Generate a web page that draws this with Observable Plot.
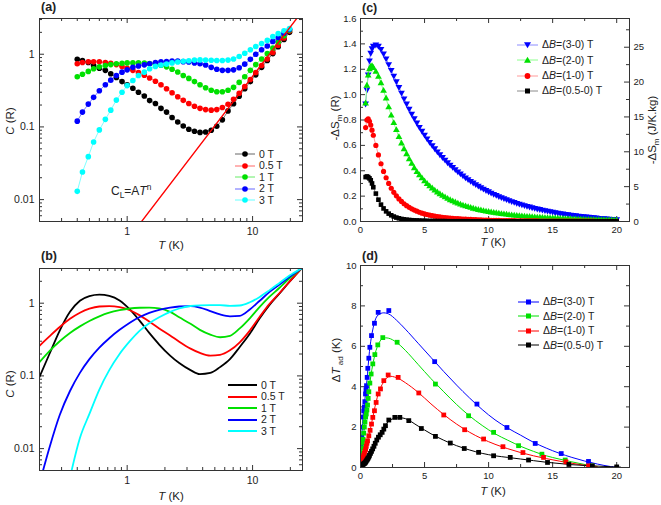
<!DOCTYPE html>
<html><head><meta charset="utf-8">
<script src="https://cdn.jsdelivr.net/npm/d3@7"></script>
<script src="https://cdn.jsdelivr.net/npm/@observablehq/plot@0.6"></script>
<style>
body{margin:0;background:#fff;font-family:"Liberation Sans",Arial,sans-serif;color:#222;}
#wrap{position:relative;width:661px;height:505px;overflow:hidden;background:#fff;}
.p{position:absolute;}
.t{position:absolute;font-size:11.5px;white-space:nowrap;line-height:1;}
.rot{transform:translate(-50%,-50%) rotate(-90deg);}
.ctr{transform:translate(-50%,-50%);}
.lab{position:absolute;font-weight:bold;font-size:12.5px;line-height:1;}
.leg{position:absolute;display:flex;align-items:center;height:12px;gap:4px;font-size:10.5px;white-space:nowrap;line-height:1;}
sub,sup{font-size:70%;line-height:0;}
sub{vertical-align:-0.3em;} sup{vertical-align:0.6em;}
</style></head>
<body><div id="wrap"></div>
<script>
// ---------- Panel (a): measured C(T) ----------
const aT = [0.4,0.44,0.49,0.54,0.6,0.67,0.74,0.82,0.91,1.0,1.11,1.23,1.37,1.51,1.68,1.86,2.06,2.28,2.53,2.8,3.1,3.44,3.81,4.22,4.68,5.18,5.74,6.37,7.05,7.82,8.66,9.6,10.6,11.8,13.1,14.5,16.0,17.8,19.7];
const aC0 = [0.85,0.82,0.77,0.70,0.64,0.60,0.54,0.48,0.42,0.38,0.34,0.30,0.266,0.23,0.21,0.18,0.16,0.135,0.117,0.103,0.093,0.087,0.084,0.085,0.09,0.102,0.125,0.166,0.208,0.265,0.335,0.42,0.52,0.66,0.82,1.02,1.27,1.6,2.0];
const aC05 = [0.74,0.77,0.785,0.785,0.785,0.77,0.75,0.72,0.68,0.64,0.6,0.56,0.515,0.47,0.425,0.38,0.335,0.295,0.26,0.232,0.21,0.192,0.18,0.173,0.17,0.173,0.185,0.205,0.24,0.29,0.36,0.45,0.56,0.7,0.86,1.06,1.33,1.67,2.08];
const aC1 = [0.49,0.53,0.58,0.63,0.67,0.70,0.72,0.74,0.75,0.76,0.76,0.76,0.755,0.745,0.73,0.705,0.67,0.62,0.57,0.51,0.465,0.42,0.38,0.345,0.32,0.305,0.305,0.32,0.35,0.41,0.49,0.6,0.72,0.86,1.02,1.22,1.47,1.8,2.15];
const aC2 = [0.12,0.16,0.206,0.255,0.315,0.38,0.44,0.51,0.567,0.61,0.66,0.69,0.714,0.74,0.77,0.785,0.795,0.805,0.805,0.79,0.78,0.76,0.74,0.71,0.66,0.62,0.6,0.6,0.61,0.65,0.73,0.85,1.0,1.15,1.3,1.5,1.7,1.95,2.2];
const aC3 = [0.013,0.024,0.039,0.062,0.091,0.127,0.17,0.234,0.3,0.37,0.436,0.51,0.567,0.63,0.68,0.71,0.73,0.76,0.78,0.8,0.815,0.83,0.835,0.83,0.825,0.82,0.82,0.83,0.86,0.93,1.03,1.15,1.28,1.4,1.55,1.75,1.92,2.1,2.25];
const lawT = [1.2, 26];
const lawC = [0.00415, 4.3];
const fieldLabels = ["0 T","0.5 T","1 T","2 T","3 T"];

// ---------- Panel (b): model C(T) ----------
const bT = [0.2,0.24,0.29,0.35,0.42,0.5,0.6,0.72,0.87,1.05,1.26,1.5,1.8,2.2,2.6,3.2,3.8,4.6,5.5,6.6,7.9,9.5,11.4,13.6,16.4,19.7,24.5];
const bC0 = [0.097,0.2,0.42,0.76,1.08,1.25,1.31,1.26,1.09,0.82,0.57,0.39,0.27,0.19,0.15,0.12,0.106,0.11,0.132,0.17,0.25,0.38,0.62,0.94,1.36,1.97,3.0];
const bC05 = [0.26,0.35,0.47,0.61,0.74,0.84,0.9,0.91,0.88,0.8,0.68,0.56,0.45,0.36,0.295,0.237,0.207,0.19,0.195,0.225,0.29,0.42,0.65,0.97,1.38,1.98,3.0];
const bC1 = [0.155,0.22,0.3,0.39,0.48,0.57,0.66,0.74,0.8,0.845,0.865,0.87,0.85,0.76,0.64,0.52,0.43,0.37,0.34,0.355,0.45,0.62,0.89,1.22,1.63,2.2,3.0];
const bC2 = [0.0033,0.0103,0.029,0.062,0.11,0.17,0.245,0.33,0.43,0.54,0.645,0.735,0.81,0.87,0.9,0.91,0.87,0.78,0.7,0.66,0.67,0.82,1.08,1.42,1.8,2.3,3.0];
const bC3 = [null,null,null,0.004,0.014,0.03,0.065,0.12,0.2,0.3,0.42,0.53,0.64,0.76,0.845,0.915,0.935,0.94,0.94,0.92,0.93,1.03,1.22,1.5,1.9,2.4,3.0];

// ---------- Panel (c): -ΔS_m(T) ----------
const cT = [0.4,0.5,0.6,0.7,0.8,0.9,1.0,1.2,1.4,1.6,1.8,2.0,2.2,2.4,2.6,2.8,3.0,3.2,3.4,3.6,3.8,4.0,4.2,4.4,4.6,4.8,5.0,5.2,5.4,5.6,5.8,6.0,6.2,6.4,6.6,6.8,7.0,7.2,7.4,7.6,7.8,8.0,8.2,8.4,8.6,8.8,9.0,9.2,9.4,9.6,9.8,10.0,10.2,10.4,10.6,10.8,11.0,11.2,11.4,11.6,11.8,12.0,12.2,12.4,12.6,12.8,13.0,13.2,13.4,13.6,13.8,14.0,14.2,14.4,14.6,14.8,15.0,15.2,15.4,15.6,15.8,16.0,16.2,16.4,16.6,16.8,17.0,17.2,17.4,17.6,17.8,18.0,18.2,18.4,18.6,18.8,19.0,19.2,19.4,19.6,19.8,20.0];
const cS3 = [0.93,1.04,1.16,1.27,1.33,1.365,1.385,
1.395,1.385,1.36,1.325,1.285,1.24,1.195,1.15,1.105,1.06,
1.015,0.97,0.93,0.89,0.85,0.815,0.78,0.745,0.715,0.685,
0.655,0.628,0.602,0.577,0.553,0.53,0.508,0.487,0.467,0.448,
0.43,0.412,0.395,0.379,0.363,0.348,0.334,0.32,0.307,0.294,
0.282,0.27,0.259,0.248,0.238,0.228,0.218,0.209,0.2,0.192,
0.184,0.176,0.168,0.161,0.154,0.147,0.141,0.135,0.129,0.123,
0.118,0.112,0.107,0.102,0.098,0.093,0.089,0.085,0.081,0.077,
0.073,0.07,0.066,0.063,0.06,0.057,0.054,0.051,0.049,0.046,
0.044,0.041,0.039,0.037,0.035,0.033,0.031,0.029,0.027,0.026,
0.024,0.023,0.021,0.02,0.019];
const cS2 = [0.93,1.07,1.15,1.2,1.22,1.225,1.21,
1.18,1.14,1.09,1.03,0.97,0.9,0.835,0.775,0.72,0.665,
0.615,0.57,0.53,0.49,0.455,0.42,0.39,0.365,0.34,0.317,
0.296,0.277,0.26,0.244,0.229,0.215,0.202,0.19,0.179,0.168,
0.159,0.15,0.141,0.133,0.126,0.119,0.113,0.107,0.101,0.096,
0.091,0.087,0.082,0.078,0.075,0.071,0.068,0.065,0.062,0.059,
0.056,0.054,0.051,0.049,0.047,0.045,0.043,0.041,0.039,0.037,
0.036,0.034,0.033,0.031,0.03,0.029,0.027,0.026,0.025,0.024,
0.023,0.022,0.021,0.02,0.019,0.018,0.018,0.017,0.016,0.015,
0.015,0.014,0.013,0.013,0.012,0.012,0.011,0.011,0.01,0.01,
0.009,0.009,0.009,0.008,0.008];
const cS1 = [0.74,0.8,0.81,0.79,0.76,0.72,0.68,
0.6,0.525,0.455,0.395,0.345,0.3,0.262,0.23,0.202,0.178,
0.158,0.14,0.125,0.112,0.1,0.09,0.081,0.073,0.066,0.06,
0.055,0.05,0.046,0.042,0.039,0.036,0.033,0.031,0.029,0.027,
0.025,0.023,0.022,0.02,0.019,0.018,0.017,0.016,0.015,0.014,
0.013,0.013,0.012,0.011,0.011,0.01,0.01,0.009,0.009,0.008,
0.008,0.008,0.007,0.007,0.007,0.006,0.006,0.006,0.006,0.005,
0.005,0.005,0.005,0.005,0.004,0.004,0.004,0.004,0.004,0.004,
0.004,0.004,0.003,0.003,0.003,0.003,0.003,0.003,0.003,0.003,
0.003,0.003,0.003,0.003,0.003,0.003,0.002,0.002,0.002,0.002,
0.002,0.002,0.002,0.002,0.002];
const cS05 = [0.35,0.355,0.35,0.34,0.325,0.3,0.27,
0.22,0.172,0.133,0.103,0.08,0.062,0.049,0.039,0.031,0.025,
0.02,0.017,0.014,0.012,0.01,0.009,0.008,0.007,0.006,0.005,
0.005,0.004,0.004,0.004,0.003,0.003,0.003,0.003,0.002,0.002,
0.002,0.002,0.002,0.002,0.002,0.002,0.002,0.001,0.001,0.001,
0.001,0.001,0.001,0.001,0.001,0.001,0.001,0.001,0.001,0.001,
0.001,0.001,0.001,0.001,0.001,0.001,0.001,0.001,0.001,0.001,
0.001,0.001,0.001,0.001,0.001,0.001,0.001,0.001,0.001,0.001,
0.001,0.001,0.001,0.001,0.001,0.001,0.001,0.001,0.001,0.001,
0.001,0.001,0.001,0.001,0.001,0.001,0.001,0.001,0.001,0.001,
0.001,0.001,0.001,0.001,0.001];
const jkgPerR = 18.2;
const cRightTicks = [0,5,10,15,20,25];
const cRightMinor = [2.5,7.5,12.5,17.5,22.5,27.5];
const dBLabels = ["(3-0) T","(2-0) T","(1-0) T","(0.5-0) T"];

// ---------- Panel (d): ΔT_ad(T) ----------
const dLT = [0.05,0.2,0.4,0.5,0.6,0.7,0.8,1.0,1.3,1.7,2.2,2.8,3.5,4.5,5.5,6.5,7.5,8.5,9.5,10.5,11.5,12.5,13.5,14.5,15.5,16.5,17.5,18.5,19.5,20.3];
const dL3 = [1.0,2.5,3.7,4.3,5.05,5.75,6.25,6.95,7.5,7.65,7.6,7.3,6.85,6.15,5.45,4.75,4.08,3.45,2.87,2.36,1.95,1.6,1.25,0.96,0.71,0.5,0.32,0.17,0.05,0];
const dL2 = [0.7,1.4,2.5,2.85,3.42,4.0,4.5,5.23,5.95,6.38,6.4,6.2,5.8,5.1,4.4,3.75,3.12,2.56,2.08,1.67,1.35,1.05,0.8,0.58,0.42,0.28,0.15,0.04,null,null];
const dL1 = [0.25,0.5,0.9,1.2,1.45,1.7,2.0,2.6,3.45,4.12,4.5,4.45,4.2,3.72,3.15,2.62,2.15,1.75,1.42,1.15,0.93,0.74,0.58,0.44,0.32,0.21,0.11,0.03,null,null];
const dL05 = [0.1,0.16,0.27,0.37,0.47,0.6,0.72,0.98,1.38,1.76,2.3,2.45,2.42,2.05,1.67,1.35,1.08,0.87,0.7,0.58,0.5,0.42,0.34,0.26,0.2,0.14,0.1,0.07,0.04,0.02];
const dT3 = [0.05,0.1,0.15,0.2,0.25,0.3,0.34,0.39,0.43,0.47,0.52,0.57,0.65,0.73,0.86,1.09,1.38,2.21,5.79,9.09,11.43,13.64,15.67,17.8];
const dY3 = [1.0,1.5,2.0,2.5,2.8,3.0,3.26,3.64,3.85,4.05,4.46,4.91,5.41,5.95,6.53,7.14,7.68,7.77,5.24,3.14,1.98,1.19,0.69,0.3];
const dT2 = [0.05,0.1,0.15,0.2,0.25,0.3,0.35,0.4,0.45,0.5,0.55,0.6,0.65,0.73,0.83,0.96,1.12,1.35,1.74,2.86,5.85,8.44,10.39,12.34,14.16,15.98,18.06];
const dY2 = [0.7,0.95,1.2,1.4,1.7,2.0,2.25,2.5,2.65,2.85,3.09,3.42,3.75,4.18,4.63,5.13,5.59,6.07,6.43,6.2,4.13,2.56,1.74,1.08,0.66,0.37,0.08];
const dT1 = [0.05,0.1,0.15,0.2,0.25,0.3,0.35,0.4,0.45,0.5,0.55,0.65,0.75,0.86,0.96,1.09,1.22,1.38,1.56,1.82,2.16,2.94,4.55,6.5,8.13,9.61,11.12,12.68,14.29,16.03,17.8];
const dY1 = [0.25,0.32,0.4,0.5,0.6,0.7,0.8,0.9,1.05,1.2,1.32,1.57,1.84,2.15,2.48,2.81,3.22,3.64,3.89,4.3,4.58,4.46,3.69,2.6,1.87,1.41,1.03,0.74,0.5,0.28,0.08];
const dT05 = [0.05,0.1,0.15,0.2,0.25,0.3,0.35,0.4,0.45,0.5,0.55,0.6,0.65,0.7,0.78,0.86,0.95,1.05,1.15,1.27,1.4,1.54,1.69,1.82,1.95,2.21,2.68,3.07,3.77,4.75,5.85,7.01,8.1,9.22,10.39,11.69,13.12,14.6,16.27,18.1,20.0];
const dY05 = [0.1,0.12,0.14,0.16,0.18,0.2,0.23,0.27,0.32,0.37,0.42,0.47,0.53,0.6,0.7,0.8,0.92,1.05,1.2,1.36,1.5,1.62,1.74,1.9,2.07,2.35,2.48,2.48,2.32,1.93,1.54,1.21,0.94,0.75,0.58,0.5,0.37,0.25,0.15,0.08,0.03];

// ---------- tick values ----------
const logXMajor = [1, 10];
const logXMinor = [0.3,0.4,0.5,0.6,0.7,0.8,0.9,2,3,4,5,6,7,8,9,20];
const logYMajor = [0.01, 0.1, 1];
const logYMinor = [0.006,0.007,0.008,0.009,0.02,0.03,0.04,0.05,0.06,0.07,0.08,0.09,0.2,0.3,0.4,0.5,0.6,0.7,0.8,0.9,2,3];
const linXMajor = [0,5,10,15,20];
const linXMinor = [2.5,7.5,12.5,17.5];
const cYMajor = [0,0.2,0.4,0.6,0.8,1.0,1.2,1.4,1.6];
const cYMinor = [0.1,0.3,0.5,0.7,0.9,1.1,1.3,1.5];
const dYMajor = [0,2,4,6,8,10];
const dYMinor = [1,3,5,7,9];

// ---------- styles ----------
const colA = ["#000000","#ff0000","#00e000","#0000ff","#00ffff"];
const colC = ["#0000ff","#00e000","#ff0000","#000000"];
const lineC = ["#8c8cff","#8cff8c","#ff9a9a","#8a8a8a"];
const FONT = "'Liberation Sans', Arial, sans-serif";
const AX = "#333";

const wrap = document.getElementById("wrap");
function place(node, left, top) {
  const d = document.createElement("div");
  d.className = "p"; d.style.left = left + "px"; d.style.top = top + "px";
  d.appendChild(node); wrap.appendChild(d);
}
function html(cls, x, y, inner, extra = "") {
  const d = document.createElement("div");
  d.className = cls; d.style.left = x + "px"; d.style.top = y + "px";
  if (extra) d.style.cssText += extra;
  d.innerHTML = inner; wrap.appendChild(d);
}
function ticks(fw, fh, o) {
  const st = {stroke: AX, strokeWidth: 1};
  const L = 5, S = 3;
  return [
    Plot.ruleX(o.xMaj, {x: d => d, insetTop: fh - L, ...st}),
    Plot.ruleX(o.xMaj, {x: d => d, insetBottom: fh - L, ...st}),
    Plot.ruleX(o.xMin, {x: d => d, insetTop: fh - S, ...st}),
    Plot.ruleX(o.xMin, {x: d => d, insetBottom: fh - S, ...st}),
    Plot.ruleY(o.yMaj, {y: d => d, insetRight: fw - L, ...st}),
    Plot.ruleY(o.yMin, {y: d => d, insetRight: fw - S, ...st}),
    Plot.ruleY(o.yMajR || o.yMaj, {y: d => d, insetLeft: fw - L, ...st}),
    Plot.ruleY(o.yMinR || o.yMin, {y: d => d, insetLeft: fw - S, ...st})
  ];
}
const triDown = {draw(ctx, size) {
  const s3 = Math.sqrt(3), y = -Math.sqrt(size / (s3 * 3));
  ctx.moveTo(0, -y * 2); ctx.lineTo(-s3 * y, y); ctx.lineTo(s3 * y, y); ctx.closePath();
}};
const pstyle = {fontFamily: FONT, fontSize: "10.5px", color: "#222", background: "transparent", overflow: "visible"};
const rows = (xs, ys) => xs.map((x, i) => ({x, y: ys[i]})).filter(d => d.y != null);

// ---------- (a) ----------
{
  const series = [aC0, aC05, aC1, aC2, aC3];
  const marks = [...ticks(263, 203, {xMaj: logXMajor, xMin: logXMinor, yMaj: logYMajor, yMin: logYMinor})];
  marks.push(Plot.axisX(logXMajor, {tickSize: 0, tickPadding: 6, tickFormat: d => String(d), label: null}));
  marks.push(Plot.axisY(logYMajor, {tickSize: 0, tickPadding: 5, tickFormat: d => String(d), label: null}));
  series.forEach((s, k) => {
    const data = rows(aT, s);
    marks.push(Plot.line(data, {x: "x", y: "y", stroke: colA[k], strokeOpacity: 0.5, strokeWidth: 1, clip: true}));
    marks.push(Plot.dot(data, {x: "x", y: "y", r: 2.8, fill: colA[k], clip: true}));
  });
  marks.push(Plot.line(rows(lawT, lawC), {x: "x", y: "y", stroke: "#ff0000", strokeWidth: 1.4, clip: true}));
  marks.push(Plot.frame({stroke: AX}));
  place(Plot.plot({width: 330, height: 250, marginLeft: 39, marginRight: 28, marginTop: 18, marginBottom: 29,
    x: {type: "log", domain: [0.2, 25]}, y: {type: "log", domain: [0.005, 3.1]}, style: pstyle, marks}), 0, 0);
}
// ---------- (b) ----------
{
  const series = [bC0, bC05, bC1, bC2, bC3];
  const marks = [...ticks(263, 202, {xMaj: logXMajor, xMin: logXMinor, yMaj: logYMajor, yMin: logYMinor})];
  marks.push(Plot.axisX(logXMajor, {tickSize: 0, tickPadding: 6, tickFormat: d => String(d), label: null}));
  marks.push(Plot.axisY(logYMajor, {tickSize: 0, tickPadding: 5, tickFormat: d => String(d), label: null}));
  series.forEach((s, k) => {
    marks.push(Plot.line(rows(bT, s), {x: "x", y: "y", stroke: colA[k], strokeWidth: 1.8, curve: "monotone-x", clip: true}));
  });
  marks.push(Plot.frame({stroke: AX}));
  place(Plot.plot({width: 330, height: 255, marginLeft: 39, marginRight: 28, marginTop: 18, marginBottom: 35,
    x: {type: "log", domain: [0.2, 25]}, y: {type: "log", domain: [0.005, 3.0]}, style: pstyle, marks}), 0, 250);
}
// ---------- (c) ----------
{
  const series = [cS3, cS2, cS1, cS05];
  const syms = [triDown, "triangle", "circle", "square"];
  const rs = [2.5, 2.5, 2.6, 2.6];
  const rMaj = cRightTicks.map(v => v / jkgPerR), rMin = cRightMinor.map(v => v / jkgPerR);
  const marks = [...ticks(269, 203, {xMaj: linXMajor, xMin: linXMinor, yMaj: cYMajor, yMin: cYMinor, yMajR: rMaj, yMinR: rMin})];
  marks.push(Plot.axisX(linXMajor, {tickSize: 0, tickPadding: 5, fontSize: 9.5, tickFormat: d => String(d), label: null}));
  marks.push(Plot.axisY(cYMajor, {tickSize: 0, tickPadding: 4, fontSize: 9.5, tickFormat: d3.format(".1f"), label: null}));
  marks.push(Plot.axisY(rMaj, {anchor: "right", tickSize: 0, tickPadding: 4, fontSize: 9.5, tickFormat: d => String(Math.round(d * jkgPerR)), label: null}));
  series.forEach((s, k) => {
    const data = rows(cT, s);
    marks.push(Plot.line(data, {x: "x", y: "y", stroke: lineC[k], strokeWidth: 1, clip: true}));
    marks.push(Plot.dot(data, {x: "x", y: "y", symbol: syms[k], r: rs[k], fill: colC[k], clip: true}));
  });
  marks.push(Plot.frame({stroke: AX}));
  place(Plot.plot({width: 331, height: 250, marginLeft: 30, marginRight: 32, marginTop: 18, marginBottom: 29,
    x: {domain: [0, 21]}, y: {domain: [0, 1.6]}, style: pstyle, marks}), 330, 0);
}
// ---------- (d) ----------
{
  const lines = [dL3, dL2, dL1, dL05];
  const pts = [[dT3, dY3], [dT2, dY2], [dT1, dY1], [dT05, dY05]];
  const marks = [...ticks(269, 202, {xMaj: linXMajor, xMin: linXMinor, yMaj: dYMajor, yMin: dYMinor})];
  marks.push(Plot.axisX(linXMajor, {tickSize: 0, tickPadding: 5, fontSize: 9.5, tickFormat: d => String(d), label: null}));
  marks.push(Plot.axisY(dYMajor, {tickSize: 0, tickPadding: 4, fontSize: 9.5, tickFormat: d => String(d), label: null}));
  lines.forEach((s, k) => {
    marks.push(Plot.line(rows(dLT, s), {x: "x", y: "y", stroke: colC[k], strokeWidth: 1, curve: "catmull-rom", clip: true}));
  });
  pts.forEach(([t, v], k) => {
    marks.push(Plot.dot(rows(t, v), {x: "x", y: "y", symbol: "square", r: 2.7, fill: colC[k], clip: true}));
  });
  marks.push(Plot.frame({stroke: AX}));
  place(Plot.plot({width: 331, height: 255, marginLeft: 30, marginRight: 32, marginTop: 15, marginBottom: 38,
    x: {domain: [0, 21]}, y: {domain: [0, 10]}, style: pstyle, marks}), 330, 250);
}

// ---------- text overlays ----------
html("lab", 41, 1, "(a)");
html("lab", 41, 250, "(b)");
html("lab", 362, 2, "(c)");
html("lab", 362, 250, "(d)");
html("t rot", 11, 121, "<i>C</i> (R)");
html("t ctr", 171, 246, "<i>T</i> (K)");
html("t rot", 11, 384, "<i>C</i> (R)");
html("t ctr", 171, 497, "<i>T</i> (K)");
html("t rot", 336, 118, "-ΔS<sub>m</sub> (R)");
html("t rot", 653, 130, "-ΔS<sub>m</sub> (J/K.kg)");
html("t ctr", 493, 243, "<i>T</i> (K)");
html("t rot", 337, 360, "Δ<i>T</i><sub>&nbsp;ad</sub> (K)");
html("t ctr", 493, 492, "<i>T</i> (K)");
html("t", 111, 185, "C<sub>L</sub>=A<i>T</i><sup>n</sup>", "font-size:12px;");

// ---------- legends ----------
function legRow(x, yc, swatch, label) {
  const d = document.createElement("div");
  d.className = "leg"; d.style.left = x + "px"; d.style.top = (yc - 6) + "px";
  d.innerHTML = swatch + "<span>" + label + "</span>";
  wrap.appendChild(d);
}
const legAy = [154, 165.5, 177, 188.5, 200];
fieldLabels.forEach((lab, k) => {
  legRow(235, legAy[k], `<svg width="20" height="12"><line x1="0" x2="20" y1="6" y2="6" stroke="${colA[k]}" stroke-opacity="0.6"/><circle cx="10" cy="6" r="2.8" fill="${colA[k]}"/></svg>`, lab);
});
const legBy = [385, 396.5, 408, 419.5, 431];
fieldLabels.forEach((lab, k) => {
  legRow(228, legBy[k], `<svg width="29" height="12"><line x1="0" x2="29" y1="6" y2="6" stroke="${colA[k]}" stroke-width="2"/></svg>`, lab);
});
const cMark = [
  c => `<path d="M7,3.2 L14,3.2 L10.5,9.3 Z" fill="${c}"/>`,
  c => `<path d="M10.5,2.7 L14,8.8 L7,8.8 Z" fill="${c}"/>`,
  c => `<circle cx="10.5" cy="6" r="2.9" fill="${c}"/>`,
  c => `<rect x="8" y="3.5" width="5" height="5" fill="${c}"/>`
];
const legCy = [44.5, 60, 75.5, 90.5];
dBLabels.forEach((lab, k) => {
  legRow(517, legCy[k], `<svg width="21" height="12"><line x1="0" x2="21" y1="6" y2="6" stroke="${lineC[k]}"/>${cMark[k](colC[k])}</svg>`, "Δ<i>B</i>=" + lab);
});
const legDy = [301.5, 316, 330.5, 345];
dBLabels.forEach((lab, k) => {
  legRow(518, legDy[k], `<svg width="21" height="12"><line x1="0" x2="21" y1="6" y2="6" stroke="${colC[k]}"/>${cMark[3](colC[k])}</svg>`, "Δ<i>B</i>=" + lab);
});
</script></body></html>
